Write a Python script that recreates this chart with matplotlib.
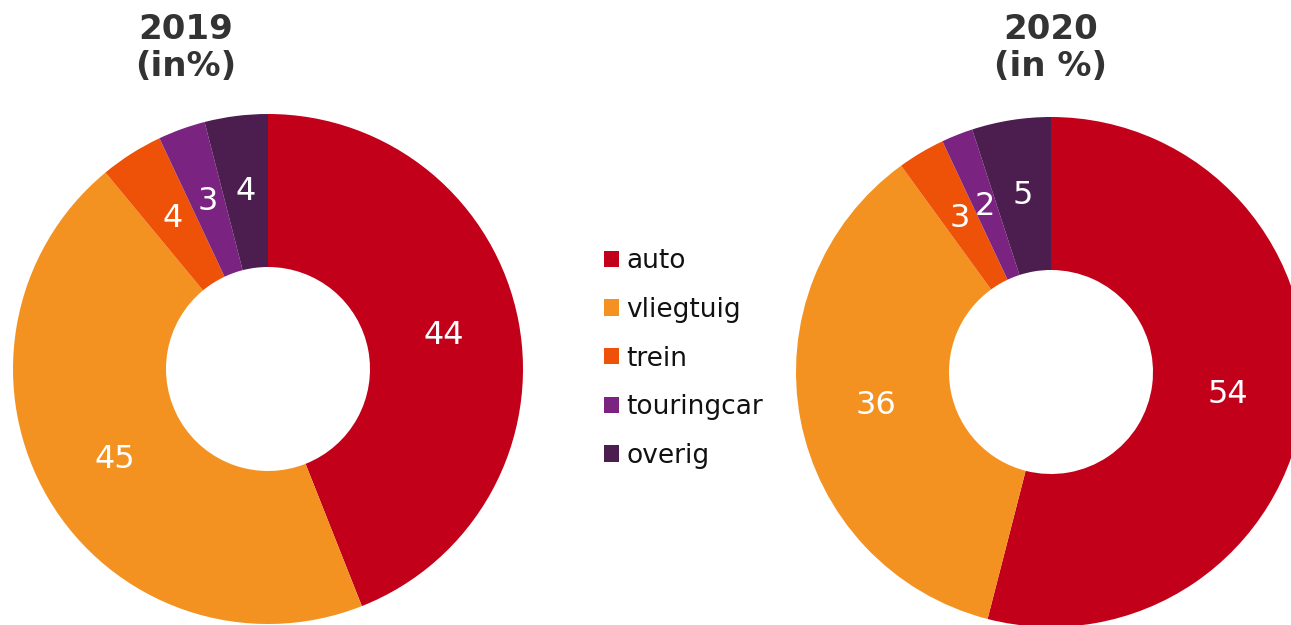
import matplotlib.pyplot as plt

categories = ["auto", "vliegtuig", "trein", "touringcar", "overig"]
values_2019 = [44, 45, 4, 3, 4]
values_2020 = [54, 36, 3, 2, 5]
titles = ["2019\n(in%)", "2020\n(in %)"]
colors = ["#C3001A", "#F39220", "#EE5209", "#7B2380", "#4C1D4F"]

W, H = 1291, 625


def donut(ax, values):
    wedges, texts, autotexts = ax.pie(
        values,
        colors=colors,
        startangle=90,
        counterclock=False,
        radius=1.0,
        wedgeprops=dict(width=0.6, linewidth=0),
        autopct=lambda p: f"{p:.0f}",
        pctdistance=0.7,
        textprops=dict(color="white", fontsize=23),
    )
    ax.set_xlim(-1, 1)
    ax.set_ylim(-1, 1)
    ax.set_aspect("equal")
    ax.axis("off")
    for w in wedges:
        w.set_clip_on(False)
    return wedges


def main() -> None:
    fig = plt.figure(figsize=(W / 100, H / 100), dpi=100)

    # donut centres and radius in pixels
    r = 255
    ax1 = fig.add_axes([(268 - r) / W, (H - 369 - r) / H, 2 * r / W, 2 * r / H])
    ax2 = fig.add_axes([(1051 - r) / W, (H - 372 - r) / H, 2 * r / W, 2 * r / H])

    wedges = donut(ax1, values_2019)
    donut(ax2, values_2020)

    fig.text(186 / W, 1 - 48 / H, titles[0], ha="center", va="center",
             fontsize=24.5, fontweight="bold", color="#333333", linespacing=1.15)
    fig.text(1051 / W, 1 - 48 / H, titles[1], ha="center", va="center",
             fontsize=24.5, fontweight="bold", color="#333333", linespacing=1.15)

    fig.legend(
        wedges,
        categories,
        loc="center left",
        bbox_to_anchor=(604 / W, 1 - 358.5 / H),
        frameon=False,
        fontsize=19,
        handlelength=0.58,
        handleheight=0.58,
        handletextpad=0.28,
        labelspacing=0.86,
        borderpad=0,
        borderaxespad=0,
        labelcolor="#111111",
    )

    fig.savefig("out.png", dpi=100)


if __name__ == "__main__":
    main()
